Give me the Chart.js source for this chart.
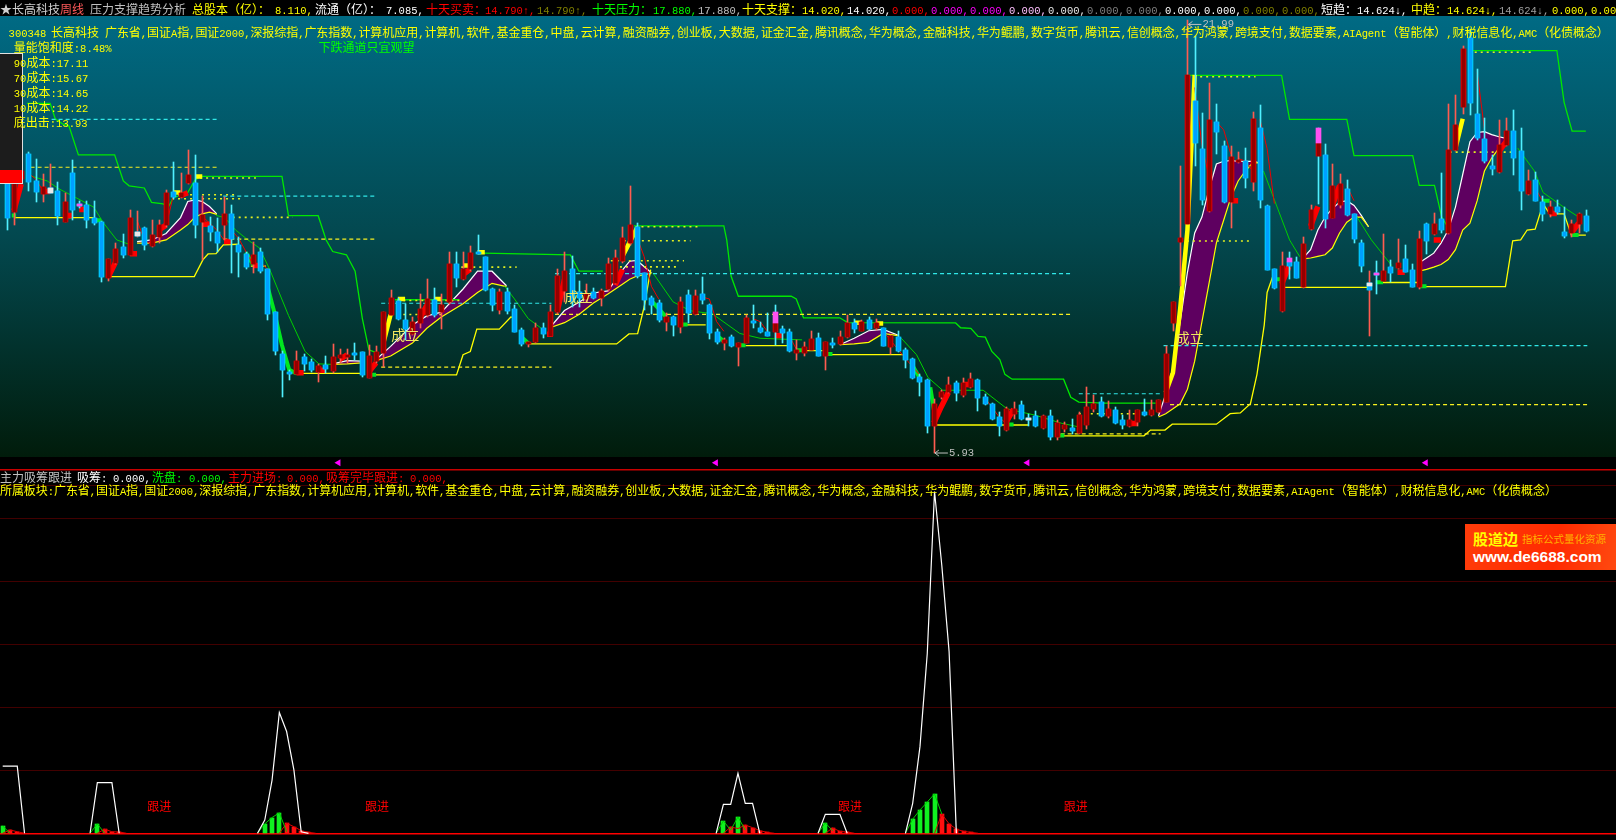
<!DOCTYPE html>
<html>
<head>
<meta charset="utf-8">
<title>长高科技 周线</title>
<script src="https://cdn.jsdelivr.net/npm/chart.js@4/dist/chart.umd.min.js"></script>
<style>
  html, body { margin: 0; padding: 0; background: #000; width: 1616px; height: 840px; overflow: hidden; }
  canvas { position: absolute; left: 0; display: block; }
  #priceChart { top: 0; z-index: 2; }
  #flowChart { top: 465px; z-index: 1; }
  .t { position: absolute; white-space: nowrap; font: 12px/16px "Noto Sans CJK SC", sans-serif; z-index: 5; }
  .t span { font: 10.5px/16px "Liberation Mono", monospace; }
  #topBar { position: absolute; left: 0; top: 0; width: 1616px; height: 16px; background: #000; z-index: 3; }
  #costBox { position: absolute; left: 0; top: 53px; width: 22px; height: 129px; background: #1c1c1c; border: 1px solid #e0e0e0; border-left: 0; z-index: 4; }
  #costBox div { position: absolute; left: 0; bottom: 0; width: 22px; height: 13px; background: #ff0000; }
  #adBox { position: absolute; left: 1465px; top: 524px; width: 151px; height: 46px; z-index: 5; background: linear-gradient(100deg, #ff3c0a, #ff2a00 60%, #ff4a10); }
  #adBox b, #adBox i { position: absolute; white-space: nowrap; font-style: normal; }
</style>
</head>
<body>
<div id="topBar"></div>
<div id="costBox"><div></div></div>
<div id="adBox">
  <b style="left:8px;top:6px;font:bold 15px/18px 'Noto Sans CJK SC';color:#ffff00">股道边</b>
  <i style="left:57px;top:8px;font:10.5px/14px 'Noto Sans CJK SC';color:#ffb000">指标公式量化资源</i>
  <b style="left:8px;top:24px;font:bold 15.5px/18px 'Liberation Sans';color:#fff">www.de6688.com</b>
</div>
<canvas id="priceChart" width="1616" height="475"></canvas>
<canvas id="flowChart" width="1616" height="375"></canvas>
<script>
// K线 (周线)
const opens = [
  16.40,14.86,16.10,17.02,16.03,15.54,15.76,15.67,14.49,16.32,
  15.19,15.12,14.64,14.51,12.44,12.99,13.56,13.29,14.13,14.30,
  13.60,13.94,14.39,15.63,15.45,15.97,15.97,14.51,14.35,14.13,
  14.39,14.79,13.66,13.33,12.93,13.41,12.75,11.16,9.62,8.91,
  8.88,9.50,9.31,8.94,9.18,8.97,9.46,9.49,9.61,9.68,
  8.73,9.36,9.64,11.07,11.59,10.86,10.34,10.74,11.04,11.62,
  11.16,11.53,12.96,12.38,12.77,13.40,13.21,12.02,11.25,11.92,
  11.29,10.48,9.97,10.07,10.58,10.29,11.16,11.95,12.75,11.89,
  11.65,11.89,11.68,12.02,12.26,13.05,13.72,14.33,12.60,11.69,
  11.50,10.80,10.97,10.62,11.80,11.08,11.83,11.43,10.43,10.01,
  10.23,9.86,10.01,10.82,10.56,10.41,10.43,10.52,10.43,9.64,
  9.64,9.76,10.19,9.54,10.01,9.98,10.22,10.74,10.47,10.85,
  10.56,10.56,9.86,10.25,9.75,9.42,8.77,8.63,6.94,8.00,
  8.18,8.52,8.07,8.37,8.63,8.00,7.76,7.27,6.78,7.39,
  7.72,7.23,7.30,6.87,7.31,6.51,6.83,6.87,6.69,6.97,
  7.57,7.82,7.31,7.51,7.17,6.93,7.09,7.44,7.34,7.45,
  7.82,10.76,13.77,14.45,18.99,17.21,14.90,18.22,17.34,15.26,
  16.72,16.76,16.00,18.00,15.09,12.77,11.19,13.04,13.01,12.11,
  14.24,16.94,16.98,14.65,15.12,15.74,14.79,13.74,12.26,12.60,
  12.32,12.83,12.81,13.15,12.72,12.08,14.42,14.05,14.61,14.08,
  17.19,18.77,21.32,18.52,17.59,16.60,16.36,17.37,17.88,17.13,
  15.54,16.06,15.24,14.79,15.08,14.12,14.08,14.42,14.72
];
const closes = [
  14.64,16.58,16.40,16.00,15.63,15.81,15.60,14.72,15.24,14.94,
  15.10,14.57,14.47,12.45,13.15,13.50,13.29,14.64,13.99,13.66,
  14.01,14.38,15.60,15.42,15.59,16.25,14.39,14.75,14.14,13.74,
  14.79,13.87,13.38,12.84,13.29,12.68,11.10,9.70,9.03,8.88,
  9.34,9.22,9.00,9.16,9.06,9.49,9.58,9.58,9.57,8.81,
  9.54,9.68,11.16,11.68,10.92,10.52,10.80,11.29,11.65,11.07,
  11.44,12.93,12.41,12.77,13.35,13.33,11.98,11.43,11.89,11.19,
  10.41,9.97,10.01,10.56,10.34,11.16,12.50,12.68,11.53,11.68,
  11.83,11.69,11.95,12.93,13.17,13.90,14.39,12.50,11.62,11.44,
  10.86,10.98,10.68,11.55,11.14,11.75,11.62,10.37,10.04,10.13,
  9.89,10.01,10.95,10.74,10.41,10.27,10.77,10.40,9.70,9.76,
  9.85,10.15,9.54,10.04,9.93,10.23,10.74,10.53,10.80,10.53,
  10.74,9.92,10.29,9.70,9.40,8.73,8.55,6.94,7.76,8.18,
  8.46,8.15,8.52,8.67,7.97,7.76,7.19,6.94,7.57,7.57,
  7.21,7.17,6.94,7.31,6.54,7.05,6.98,6.76,7.33,7.63,
  7.76,7.31,7.57,7.06,6.97,7.17,7.51,7.35,7.54,7.88,
  9.61,11.53,13.91,19.98,17.45,15.34,18.30,17.86,15.26,16.91,
  16.80,16.15,18.32,15.34,12.72,12.04,12.89,12.89,12.44,13.69,
  14.97,17.45,14.61,15.85,15.91,14.75,13.88,12.87,11.98,12.53,
  12.68,12.60,12.99,12.66,12.10,13.88,13.81,14.42,14.21,17.19,
  18.10,20.92,18.91,17.61,16.76,16.48,17.37,17.88,16.88,15.67,
  16.03,15.30,14.79,15.08,14.89,13.99,14.45,14.79,14.17
];
const highs = [
  16.58,16.76,16.58,17.09,16.83,16.29,16.65,15.99,15.60,16.82,
  15.27,15.27,15.27,14.54,13.15,13.73,14.06,14.97,14.90,14.31,
  14.57,14.57,15.70,16.72,16.33,17.19,16.98,15.48,14.68,14.64,
  15.45,15.12,13.96,13.41,13.76,13.54,12.78,11.18,9.72,9.03,
  9.70,9.61,9.42,9.22,9.52,9.97,9.80,9.79,10.01,9.68,
  9.93,9.89,11.18,11.98,11.69,11.47,10.99,11.83,12.38,12.05,
  11.83,13.41,13.41,13.41,13.62,14.02,13.22,12.05,12.02,12.05,
  11.43,10.56,10.07,10.74,10.77,11.43,12.75,13.38,13.23,12.32,
  12.20,12.05,12.02,13.17,13.48,14.31,15.85,14.46,12.60,11.77,
  11.61,11.14,11.03,11.72,11.98,11.98,12.48,11.47,10.52,10.19,
  10.30,10.01,11.07,11.43,10.81,11.14,11.43,10.64,10.52,10.13,
  10.07,10.45,10.37,10.07,10.19,10.45,11.07,10.92,10.86,10.98,
  10.92,10.58,10.31,10.45,9.83,9.46,8.85,8.67,7.94,8.26,
  8.77,8.62,8.73,8.91,8.67,8.11,7.78,7.45,7.63,7.82,
  7.85,7.39,7.49,7.34,7.54,7.16,7.09,7.21,7.45,8.37,
  8.07,8.00,7.85,7.63,7.34,7.54,7.54,7.93,7.89,7.90,
  9.92,11.54,16.58,21.99,21.40,18.55,19.68,18.88,17.53,17.34,
  17.10,17.27,18.59,18.84,15.12,12.78,13.41,13.41,13.22,13.94,
  15.12,17.98,17.41,16.66,16.29,16.06,14.79,13.84,12.68,13.05,
  14.06,13.11,13.88,13.66,12.96,14.17,14.46,14.83,16.33,18.89,
  19.22,21.03,21.69,20.17,18.37,17.00,18.28,18.37,18.68,18.00,
  16.43,16.36,15.48,15.30,15.33,15.06,14.57,14.83,14.94
];
const lows = [
  14.21,14.39,16.03,15.67,15.24,15.24,15.59,14.39,14.49,14.57,
  15.01,14.29,14.39,12.28,12.31,12.93,13.17,13.29,13.94,13.45,
  13.57,13.73,14.33,15.36,15.40,15.91,13.92,13.11,13.80,13.38,
  13.84,12.60,12.46,12.75,12.62,12.62,10.86,9.58,8.00,8.63,
  8.85,8.97,8.95,8.55,8.91,8.91,9.28,9.28,9.40,8.77,
  8.73,9.28,9.12,11.04,10.86,10.13,10.30,10.56,10.99,10.99,
  10.52,11.47,12.09,12.35,12.68,13.31,11.94,11.22,11.10,11.10,
  10.41,9.90,9.85,10.01,10.19,10.26,11.10,11.54,11.36,11.36,
  11.54,11.65,11.39,11.95,12.20,13.00,13.66,12.42,11.25,11.10,
  10.81,10.45,10.29,10.37,10.74,11.07,11.47,10.16,9.97,9.76,
  9.85,9.16,10.01,10.56,10.37,10.26,9.93,10.01,9.68,9.40,
  9.54,9.74,9.52,9.00,9.83,9.95,10.19,10.37,10.46,10.49,
  10.48,9.92,9.61,9.68,9.10,8.67,8.04,6.66,5.93,7.93,
  8.15,7.85,8.00,8.33,7.49,7.71,7.15,6.57,6.76,7.21,
  7.15,6.94,6.90,6.83,6.42,6.42,6.72,6.64,6.65,6.84,
  7.45,7.27,7.23,7.02,6.84,6.91,6.94,7.31,7.31,7.42,
  7.82,10.45,12.12,14.45,16.58,15.15,14.86,17.03,15.23,14.29,
  16.69,15.77,15.64,15.02,12.71,12.02,11.18,12.38,12.41,12.04,
  14.21,15.19,14.28,14.64,15.01,14.73,13.74,12.65,10.26,11.83,
  12.31,12.27,12.75,12.64,12.09,12.02,13.33,14.02,14.10,14.06,
  17.13,18.51,18.49,17.56,16.69,16.25,16.33,17.31,16.27,14.94,
  15.52,15.27,14.53,14.69,14.81,13.91,13.94,14.10,14.14
];
// 影线颜色和实体相反的几根
const redWickIdx = [6, 18, 188];
const cyanWickIdx = [106, 181];

// 涨停/十字星的粉色和白色小块
const pinkIdx = [10, 106, 177, 181, 189];
const pinkLow = [15.10, 10.77, 13.01, 17.45, 12.53];
const pinkHigh = [15.19, 11.16, 13.18, 17.98, 12.60];
const paleIdx = [6, 18, 141, 188];
const paleLow = [15.60, 13.99, 7.17, 12.12];
const paleHigh = [15.76, 14.13, 7.23, 12.26];

// 紫色通道, null = 断开
const ribbonIdx = [18,20,22,24,25,26,27,28,29,null, 45,47,49,null, 51,53,56,58,60,63,65,67,69,null,
  75,77,79,81,83,85,86,87,89,null, 115,117,119,121,123,null,
  159,160,161,162,163,164,165,166,167,168,169,170,171,172,173,null,
  179,180,181,182,183,184,185,186,187,188,null,
  195,196,197,198,199,200,201,202,203,204,205,206,207];
const ribbonTop = [13.78,13.84,14.08,14.67,15.27,15.33,15.27,15.08,14.81,null, 9.24,9.36,9.34,null,
  9.40,9.89,10.68,11.02,11.16,12.02,12.68,12.68,12.14,null,
  10.59,11.22,11.53,11.87,11.95,12.72,13.05,13.08,12.62,null, 9.95,10.19,10.47,10.52,10.31,null,
  7.31,8.12,9.10,10.81,12.64,14.10,14.69,15.74,16.66,16.76,16.79,16.76,16.76,16.76,16.70,null,
  13.18,13.48,14.21,14.69,15.01,15.24,15.30,15.12,14.75,14.33,null,
  12.99,13.17,13.35,13.72,14.21,15.06,16.27,17.49,17.83,17.86,17.75,17.67,17.61];
const ribbonBottom = [13.72,13.72,13.84,14.21,14.41,14.69,14.81,14.87,14.79,null, 9.22,9.24,9.28,null,
  9.36,9.53,10.01,10.56,10.98,11.47,11.89,12.23,12.11,null,
  10.58,10.77,11.07,11.50,11.83,12.20,12.38,12.50,12.60,null, 9.95,9.98,10.04,10.37,10.29,null,
  7.27,7.39,7.57,7.76,8.30,9.34,10.80,12.26,13.73,14.57,15.42,16.03,16.40,16.70,16.70,null,
  13.14,13.17,13.23,13.29,13.54,14.10,14.50,14.69,14.69,14.33,null,
  12.68,12.75,12.83,12.93,13.11,13.48,14.21,14.46,15.30,16.40,16.88,17.25,17.56];

// 绿色压力线
const pressureIdx = [2.8,6,6.7,7.7,8.6,9.9,14.9,16.1,16.9,19,20,21.6,22.3,23,25,26,26.8,38,38.9,43,44.1,45,46.9,48.1,49.1,50,51.2,null,
  53.6,62.5,null, 65.8,77.8,79,82.3,null,
  86.6,99,99.4,100,101,108.3,109,110,115,116.1,131,131.7,133.1,134.1,135.1,136,137.1,137.8,138.8,145.9,146.9,148,151.5,158.6,null,
  163.1,176,177.1,185,186,194.1,195,197.1,198.1,199.2,null,
  202,214,215,216.1,218];
const pressureVal = [18.91,18.91,18.34,18.15,18.07,17.00,17.00,16.03,15.85,15.77,15.23,15.18,15.06,15.41,15.60,16.07,16.20,16.20,14.74,14.74,13.84,13.41,13.29,12.68,10.92,9.76,9.64,null,
  11.62,11.62,null, 13.35,13.29,12.68,12.68,null,
  14.36,14.36,13.84,12.50,11.75,11.75,11.65,10.95,10.95,10.77,10.76,10.58,10.56,10.26,10.23,9.70,9.40,8.85,8.67,8.67,8.00,7.82,7.78,7.78,null,
  19.95,19.95,18.32,18.32,16.97,16.97,15.87,15.87,14.69,14.21,null,
  20.87,20.87,18.95,17.88,17.88];

// 细绿线
const maIdx = [3.4,5.6,7.2,9.5,12,13.4,15.2,17.1,null, 28.9,30.1,31.6,33.3,34.9,36.3,38.9,41.2,43.1,45,null,
  68.7,70.1,72,73.8,null, 89.2,92,94.4,97.4,101.2,104,109.8,null,
  123.5,125.6,127.2,129.2,134.8,138.1,141.9,145.7,148,null,
  173.5,177.1,178.5,null, 186.4,188.4,191.2,null, 208.6,210.9,212.1,215.2,217];
const maVal = [16.21,16.03,15.74,15.42,15.06,14.46,13.84,13.66,null, 14.75,14.67,14.21,13.84,13.54,12.75,11.04,9.70,9.24,9.22,null,
  12.14,11.65,10.92,10.56,null, 12.62,11.54,11.21,11.10,10.37,10.19,10.13,null,
  10.19,9.58,8.73,8.26,8.26,7.57,7.34,7.03,6.90,null,
  16.40,13.84,13.22,null, 14.69,13.84,12.89,null, 17.25,16.40,15.60,15.01,14.69];

// 黄色支撑线
const supportIdx = [1.1,12,null, 13.8,25.9,27.1,27.8,28.9,29.9,31.9,null, 33.7,35.8,null, 40.8,48.8,null,
  50.7,62.1,63,64,64.9,68,69.6,70.4,null, 72,84.2,85.9,87.1,88,88.9,null, 92.7,96.5,null, 102,107.8,null,
  110.2,112.6,null, 113.5,123.7,null, 128.2,141.1,null,
  145.2,157,157.9,159.9,160.9,167,168.9,170.3,171.7,172.6,173.6,174,174.8,null,
  176.4,187.9,null, 189.3,195,null, 195.4,206.9,207.9,209,209.9,211,212.1,213,215,216,218];
const supportVal = [14.67,14.67,null, 12.48,12.48,13.11,13.32,13.33,13.66,13.68,null, 12.87,12.87,null, 8.89,8.89,null,
  8.83,8.83,9.58,9.70,10.53,10.53,10.98,10.92,null, 9.98,9.98,10.35,10.36,11.35,12.74,null, 10.69,10.69,null, 9.92,9.92,null,
  9.73,9.73,null, 9.58,9.58,null, 6.97,6.97,null,
  6.57,6.57,6.78,6.78,7.00,7.00,7.39,7.42,7.76,8.85,10.68,11.89,12.50,null,
  12.08,12.08,null, 12.26,12.26,null, 12.11,12.11,13.81,13.84,14.21,14.24,15.18,14.81,14.81,14.02,14.02];

// 粗线段
const thickRedIdx = [1,2,null,5,6,null,8,9,null,10,11,null,14,15,null,17,18,null,21,22,null,24,25,null,27,28,null,30,31,null,34,35,null,
  40,41,null,43,44,null,46,47,null,50,51,null,57,58,null,63,64,null,74.6,75.4,null,76,77,null,84,85,null,106,107,null,
  128,129,130,null,132,133,null,138,139,null,155,156,null,169,170,null,176,177,null,180,181,null,183,184,null,192,193,null,197,198,null,
  206,207,null,213,214,null,216,217];
const thickRedVal = [14.93,15.92,null,15.64,15.64,null,14.75,14.75,null,14.97,14.97,null,12.45,13.00,null,13.33,13.33,null,14.21,14.39,null,15.48,15.59,null,14.42,14.42,null,13.78,13.78,null,12.89,12.89,null,
  8.91,8.91,null,9.00,9.00,null,9.40,9.58,null,8.95,9.28,null,10.92,11.41,null,12.56,12.75,null,10.34,10.34,null,11.18,12.38,null,12.16,12.75,null,10.29,10.29,null,
  7.05,7.64,8.18,null,8.47,8.47,null,7.09,7.56,null,7.03,7.03,null,15.30,15.30,null,12.20,12.85,null,14.35,15.08,null,15.12,15.85,null,12.64,12.64,null,13.84,13.84,null,
  17.13,17.49,null,14.82,14.82,null,14.10,14.46];
const thickGreenIdx = [0.7,1.3,null,12,13,null,33,34,null,36,37,38,39,40,null,50,51,null,71,72,null,89,90,91,null,93,94,null,98,99,null,101,102,null,
  109,110,null,113,114,null,125,126,null,127.5,128,null,138,139,null,145,146,null,175,176,null,189,190,null,195,196,null,212,213,null,216,217];
const thickGreenVal = [14.75,14.75,null,14.57,14.57,null,13.37,12.93,null,12.12,11.10,9.93,9.02,8.88,null,8.84,8.84,null,10.26,10.01,null,11.58,11.29,10.99,null,10.70,10.70,null,10.30,10.08,null,9.93,9.93,null,
  9.75,9.75,null,9.61,9.61,null,9.20,8.73,null,8.37,7.53,null,6.99,6.99,null,6.58,6.58,null,12.38,12.38,null,12.27,12.27,null,12.12,12.12,null,15.30,15.30,null,14.02,14.02];
const thickYellowIdx = [23,24,null,26,27,null,52,53,null,54,55,null,59,60,null,63,64,null,65,66,null,85,87,null,117,118,null,120,121,null,160,161,162,163,164,null,200,201];
const thickYellowVal = [15.60,15.60,null,16.20,16.20,null,10.01,11.07,null,11.65,11.65,null,11.65,11.65,null,12.89,12.89,null,13.38,13.38,null,13.23,14.28,null,10.77,10.77,null,10.74,10.74,null,8.18,8.91,11.29,14.21,19.97,null,17.25,18.34];

// 细红线
const thinRedIdx = [3,4,5,null,18,19,20,null,22,23,null,27,29,30,null,31,32,34,null,35,36,null,87,88,89,90,null,96,97,98,99,null,103,104,105,null,108,109,null,
  121,124,126,null,135,137,138,null,164,165,166,null,167,168,169,null,170,171,172,null,173,174,175,null,185,186,null,203,204,null,211,212];
const thinRedVal = [16.32,16.10,15.67,null,14.57,13.84,13.66,null,14.35,15.48,null,14.72,14.21,13.84,null,14.21,13.91,12.93,null,13.04,12.75,null,13.95,13.22,12.12,11.65,null,11.72,11.65,10.81,10.45,null,10.92,10.81,10.45,null,10.30,9.79,null,
  10.45,9.46,8.84,null,8.00,7.27,7.01,null,19.50,17.38,16.14,null,18.22,17.93,17.02,null,16.87,16.76,16.40,null,18.33,17.23,15.19,null,15.85,15.30,null,20.05,17.96,null,15.77,15.30];

// 虚线水平位
const cyanStart = [6.2, 29.9, 51.7, 75.7, 148, 159.7];
const cyanEnd = [29.2, 51.1, 75.2, 147.2, 159.5, 218.2];
const cyanLevel = [18.32, 15.47, 11.49, 12.59, 8.13, 9.92];
const yellowStart = [3.3, 29.9, 51.7, 75.7, 145.5, 160.6];
const yellowEnd = [29.2, 51.1, 75.2, 147.2, 159.3, 218.2];
const yellowLevel = [16.54, 13.87, 9.12, 11.08, 6.64, 7.73];

// 小点行
const dotStart = [26.7,22,22,31.2,61.1,53.1,53.1,85.2,83.4,83,86.8,163.1,201,199.2,162.1,148];
const dotEnd = [34.4,31.5,32.6,39.5,70.4,62.5,60.2,94.4,93.5,92.5,95.5,172.4,210.6,208.3,171.5,156];
const dotLevel = [16.14,15.52,15.37,14.68,12.83,11.59,11.07,13.81,13.07,12.84,14.33,19.90,20.81,17.10,13.80,7.39];

const markerIdx = [45.8, 97.9, 140.9, 195.9];
const markerVal = [5.57, 5.57, 5.57, 5.57];

const setupIdx = [53.1, 77, 161.4];
const setupVal = [10.34, 11.72, 10.23];
const setupText = ['成立', '成立', '成立'];

// 副图 主力吸筹跟进
const gridLevels = [0, 20, 40, 60, 80, 100, 110.5, 115.3];
const gatherIdx = [0,1,2,3,null, 12,13,15,16,null, 35,36,37,38,39,40,41,42,null, 98,99,100,101,102,103,104,null, 112,113,115,116,null, 124,125,126,127,128,129,130,131];
const gatherVal = [21.3,21.3,21.3,0,null, 0,16.1,16.1,0,null, 0,4.2,16.9,38.3,32.3,20.1,0.5,0,null, 0,9.2,9.2,19,9.5,9.5,0,null, 0,6,6,0,null, 0,9.5,27.5,57,108.5,85,57.7,0];
const washIdx = [0, 13, 36, 37, 38, 99, 101, 113, 125, 126, 127, 128];
const washVal = [2.3, 3.0, 3.0, 5.0, 6.5, 3.9, 5.2, 3.3, 4.5, 7.4, 9.9, 12.5];
const entryIdx = [1, 2, 14, 15, 16, 39, 40, 41, 42, 100, 102, 103, 104, 105, 114, 115, 116, 129, 130, 131, 132, 133];
const entryVal = [1.06, 0.5, 1.3, 0.5, 0.4, 3.2, 2.1, 0.85, 0.3, 2.0, 2.6, 1.8, 0.85, 0.3, 1.7, 0.6, 0.4, 6.1, 3.0, 1.3, 0.6, 0.3];
const washLineIdx = [0,1,null,12,13,14,null,35,36,37,38,39,null,98,99,100,101,102,null,112,113,114,null,124,125,126,127,128,129];
const washLineVal = [2.3,0,null,0,3,0,null,0,3,5,6.5,0.5,null,0,3.9,1,5.2,1,null,0,3.3,0.8,null,0,4.5,7.4,9.9,12.5,6.1];
const entryLineIdx = [0,1,2,3,null,13,14,15,16,17,null,38,39,40,41,42,43,null,99,100,101,102,103,104,105,106,null,113,114,115,116,117,null,128,129,130,131,132,133,134];
const entryLineVal = [0,1.06,0.5,0,null,0,1.3,0.5,0.4,0,null,0,3.2,2.1,0.85,0.3,0,null,0,2,1.5,2.6,1.8,0.85,0.3,0,null,0,1.7,0.6,0.4,0,null,0,6.1,3,1.3,0.6,0.3,0];
const followIdx = [21.5, 51.4, 116.4, 147.4];
const followVal = [8.4, 8.4, 8.4, 8.4];

// 文字行
const boardList = '广东省,国证A指,国证2000,深报综指,广东指数,计算机应用,计算机,软件,基金重仓,中盘,云计算,融资融券,创业板,大数据,证金汇金,腾讯概念,华为概念,金融科技,华为鲲鹏,数字货币,腾讯云,信创概念,华为鸿蒙,跨境支付,数据要素,AIAgent（智能体）,财税信息化,AMC（化债概念）';
const topText = ['★长高科技','周线','压力支撑趋势分析','总股本（亿）：','8.110,','流通（亿）：','7.085,','十天买卖：','14.790↑,','14.790↑,','十天压力：','17.880,','17.880,','十天支撑：','14.020,','14.020,','0.000,','0.000,','0.000,','0.000,','0.000,','0.000,','0.000,','0.000,','0.000,','0.000,','0.000,','短趋：','14.624↓,','中趋：','14.624↓,','14.624↓,','0.000,','0.00'];
const topX = [0,60,90,192,275,315,386,426,485,537,592,653,698,742,802,847,892,931,970,1009,1048,1087,1126,1165,1204,1243,1282,1321,1357,1411,1447,1499,1552,1591];
const topColor = ['#d0d0d0','#ff5a5a','#c0c0c0','#ffff00','#ffff00','#ffffff','#ffffff','#ff0000','#ff0000','#808000','#00ff00','#00ff00','#c0c0c0','#ffff00','#ffff00','#ffffff','#ff0000','#ff00ff','#ff00ff','#ffc0ff','#e8e8e8','#808080','#808080','#ffffff','#ffffff','#808000','#808000','#ffffff','#ffffff','#ffff00','#ffff00','#a0a0a0','#ffff00','#ffff00'];
const costText = ['量能饱和度:8.48%','90成本:17.11','70成本:15.67','30成本:14.65','10成本:14.22','底出击:13.93'];
const costY = [47, 62, 77, 92, 107, 122];
const flowText = ['主力吸筹跟进','吸筹:','0.000,','洗盘:','0.000,','主力进场:','0.000,','吸筹完毕跟进:','0.000,'];
const flowX = [0,77,113,152,189,228,287,326,410];
const flowColor = ['#c0c0c0','#ffffff','#ffffff','#00ff00','#00ff00','#ff0000','#ff0000','#ff0000','#ff0000'];

function addText(text, x, y, color, spacing) {
  const el = document.createElement('div');
  el.className = 't';
  el.style.left = x + 'px';
  el.style.top = (y - 8) + 'px';
  el.style.color = color;
  if (spacing) el.style.letterSpacing = spacing + 'px';
  // 数字和字母用等宽字体
  el.innerHTML = text.replace(/[\x00-\x7f↑↓]+/g, m => '<span>' + m + '</span>');
  document.body.appendChild(el);
}
topText.forEach((s, i) => addText(s, topX[i], 9, topColor[i]));
addText('300348', 8.6, 32, '#ffff00');
addText('长高科技', 51, 32, '#ffff00');
addText(boardList, 105, 32, '#ffff00', -0.065);
costText.forEach((s, i) => addText(s, 13.8, costY[i], '#ffff00'));
addText('下跌通道只宜观望', 318.5, 47, '#00ff00');
flowText.forEach((s, i) => addText(s, flowX[i], 477, flowColor[i]));
addText('所属板块:' + boardList, 0, 490, '#ffff00', -0.07);

function pts(idx, val) {
  return idx.map((x, i) => ({ x: x, y: val[i] }));
}
function levels(start, end, level) {
  const out = [];
  level.forEach((v, i) => {
    out.push({ x: start[i], y: v }, { x: end[i], y: v }, { x: null, y: null });
  });
  return out;
}
function lineSet(data, color, width, extra) {
  return Object.assign({ type: 'line', data: data, borderColor: color, borderWidth: width, pointRadius: 0, tension: 0, fill: false, spanGaps: false }, extra || {});
}
function barSet(data, colors, width, order, extra) {
  return Object.assign({ type: 'bar', data: data, backgroundColor: colors, barThickness: width, grouped: false, borderWidth: 0, order: order }, extra || {});
}

const isUp = closes.map((c, i) => c >= opens[i]);
const wicks = highs.map((h, i) => ({ x: i, y: [lows[i], h] }));
const wickColors = isUp.map((u, i) => {
  if (redWickIdx.includes(i)) return '#ff5c50';
  if (cyanWickIdx.includes(i)) return '#50f0ff';
  return u ? '#ff5c50' : '#50f0ff';
});
const bodies = opens.map((o, i) => ({ x: i, y: [Math.min(o, closes[i]), Math.max(o, closes[i])] }));

// 竖线对齐到整像素, 否则发虚
const crispBars = {
  id: 'crispBars',
  afterDatasetsUpdate(chart) {
    chart.data.datasets.forEach((ds, n) => {
      if (ds.type !== 'bar') return;
      chart.getDatasetMeta(n).data.forEach(b => {
        b.x = Math.round(b.x) + (ds.barThickness % 2 ? 0.5 : 0);
        b.y = Math.round(b.y);
        b.base = Math.round(b.base);
      });
    });
  }
};

const priceBackground = {
  id: 'priceBackground',
  beforeDraw(chart) {
    const ctx = chart.ctx;
    const g = ctx.createLinearGradient(0, 16, 0, 457);
    g.addColorStop(0, '#006a84');
    g.addColorStop(0.5, '#03484f');
    g.addColorStop(1, '#011c0b');
    ctx.fillStyle = g;
    ctx.fillRect(0, 16, 1616, 441);
  }
};

const priceLabels = {
  id: 'priceLabels',
  afterDraw(chart) {
    const ctx = chart.ctx, x = chart.scales.x, y = chart.scales.y;
    ctx.save();
    ctx.font = '14px "Noto Sans CJK SC"';
    ctx.fillStyle = '#f0e860';
    ctx.textBaseline = 'middle';
    setupIdx.forEach((v, i) => ctx.fillText(setupText[i], x.getPixelForValue(v), y.getPixelForValue(setupVal[i])));
    // 最高最低标注
    ctx.font = '10.5px "Liberation Mono"';
    ctx.fillStyle = ctx.strokeStyle = '#c0c0c0';
    [[163, highs[163], 4], [128, lows[128], 0]].forEach(a => {
      const px = x.getPixelForValue(a[0]), py = y.getPixelForValue(a[1]) + a[2];
      ctx.beginPath();
      ctx.moveTo(px + 14, py); ctx.lineTo(px + 1, py);
      ctx.moveTo(px + 5, py - 3); ctx.lineTo(px + 1, py); ctx.lineTo(px + 5, py + 3);
      ctx.stroke();
      ctx.fillText(a[1].toFixed(2), px + 15, py);
    });
    ctx.restore();
  }
};

new Chart(document.getElementById('priceChart'), {
  type: 'bar',
  data: {
    datasets: [
      lineSet(pts(ribbonIdx, ribbonTop), '#ffffff', 1.2, { fill: '+1', backgroundColor: '#5e0060', order: 20 }),
      lineSet(pts(ribbonIdx, ribbonBottom), '#ffff00', 1.2, { order: 19 }),
      lineSet(pts(pressureIdx, pressureVal), '#00e800', 1.3, { order: 18 }),
      lineSet(pts(maIdx, maVal), '#00d000', 1, { order: 17 }),
      lineSet(pts(supportIdx, supportVal), '#ffff00', 1.3, { order: 16 }),
      lineSet(levels(cyanStart, cyanEnd, cyanLevel), '#30e8e8', 1.2, { borderDash: [4, 3], order: 15 }),
      lineSet(levels(yellowStart, yellowEnd, yellowLevel), '#f8f020', 1.2, { borderDash: [4, 3], order: 15 }),
      lineSet(levels(dotStart, dotEnd, dotLevel), '#e4f020', 1.6, { borderDash: [2, 4], order: 14 }),
      lineSet(pts(thickYellowIdx, thickYellowVal), '#ffff00', 4.5, { order: 13 }),
      lineSet(pts(thickRedIdx, thickRedVal), '#ff0000', 5.5, { order: 12 }),
      lineSet(pts(thickGreenIdx, thickGreenVal), '#00e820', 4, { order: 11 }),
      lineSet(pts(thinRedIdx, thinRedVal), '#f00000', 1, { order: 10 }),
      barSet(wicks, wickColors, 1, 9),
      barSet(bodies, isUp.map(u => u ? '#e00000' : '#00d4ff'), 5, 8, { minBarLength: 2 }),
      barSet(bodies, isUp.map(u => u ? '#920000' : '#00a0ff'), 3, 7, { minBarLength: 2 }),
      barSet(pinkIdx.map((x, i) => ({ x: x, y: [pinkLow[i], pinkHigh[i]] })), '#ff50f0', 5, 6),
      barSet(paleIdx.map((x, i) => ({ x: x, y: [paleLow[i], paleHigh[i]] })), '#e8e8e8', 5, 6),
      lineSet(pts(markerIdx, markerVal), '#ff00ff', 0, { showLine: false, pointRadius: 4, pointStyle: 'triangle', pointRotation: -90, pointBackgroundColor: '#ff00ff', pointBorderWidth: 0, order: 5 })
    ]
  },
  options: {
    responsive: false,
    animation: false,
    events: [],
    layout: { padding: 0 },
    plugins: { legend: { display: false }, tooltip: { enabled: false } },
    scales: {
      x: { type: 'linear', display: false, offset: false, min: -0.371, max: 221.61 },
      y: { display: false, min: 5.2625, max: 22.6 }
    }
  },
  plugins: [priceBackground, crispBars, priceLabels]
});

const flowLabels = {
  id: 'flowLabels',
  afterDraw(chart) {
    const ctx = chart.ctx, x = chart.scales.x, y = chart.scales.y;
    ctx.save();
    ctx.font = '12px "Noto Sans CJK SC"';
    ctx.fillStyle = '#ff0000';
    ctx.textAlign = 'center';
    ctx.textBaseline = 'middle';
    followIdx.forEach((v, i) => ctx.fillText('跟进', x.getPixelForValue(v), y.getPixelForValue(followVal[i])));
    ctx.restore();
  }
};

new Chart(document.getElementById('flowChart'), {
  type: 'bar',
  data: {
    datasets: [
      barSet(pts(washIdx, washVal), '#10f020', 4, 5),
      barSet(pts(entryIdx, entryVal), '#ff1010', 4, 5),
      lineSet(pts(washLineIdx, washLineVal), '#00d000', 1, { order: 4 }),
      lineSet(pts(entryLineIdx, entryLineVal), '#e00000', 1, { order: 4 }),
      lineSet(pts(gatherIdx, gatherVal), '#ffffff', 1.2, { order: 3 })
    ]
  },
  options: {
    responsive: false,
    animation: false,
    events: [],
    layout: { padding: 0 },
    plugins: { legend: { display: false }, tooltip: { enabled: false } },
    scales: {
      x: { type: 'linear', display: false, offset: false, min: -0.371, max: 221.61 },
      y: {
        min: -2.13, max: 116.9,
        border: { display: false },
        ticks: { display: false },
        afterFit(scale) { scale.width = 0; },
        afterBuildTicks(scale) { scale.ticks = gridLevels.map(v => ({ value: v })); },
        grid: {
          drawTicks: false,
          color: c => (c.tick.value === 0 ? '#ff0000' : c.tick.value === 115.3 ? '#c80000' : '#420000'),
          lineWidth: c => (c.tick.value === 0 || c.tick.value === 115.3 ? 1.5 : 1)
        }
      }
    }
  },
  plugins: [crispBars, flowLabels]
});
</script>
</body>
</html>
